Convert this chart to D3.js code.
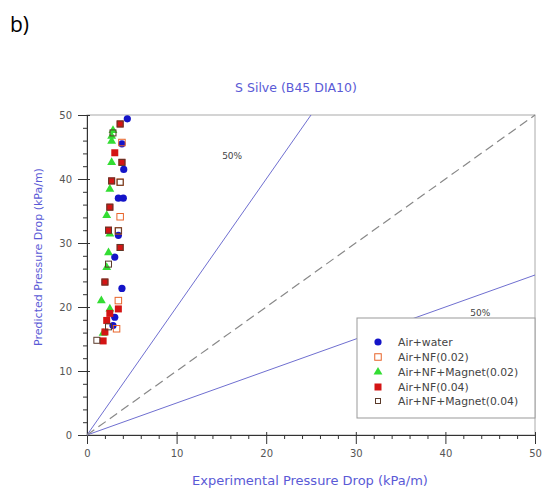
<!DOCTYPE html>
<html><head><meta charset="utf-8">
<script src="https://cdn.jsdelivr.net/npm/d3@7"></script>
<style>body{margin:0;background:#fff}svg{display:block}</style>
</head><body>
<script>
const chartTitle = "S Silve (B45 DIA10)";
const xTitle = "Experimental Pressure Drop (kPa/m)";
const yTitle = "Predicted Pressure Drop (kPa/m)";
const xTicks = [0,10,20,30,40,50];
const yTicks = [0,10,20,30,40,50];
const seriesNames = ["Air+water","Air+NF(0.02)","Air+NF+Magnet(0.02)","Air+NF(0.04)","Air+NF+Magnet(0.04)"];
const airWater = [[4.5,49.4],[4.1,41.5],[3.5,37.0],[4.05,37.0],[3.5,31.2],[3.1,27.8],[3.9,22.9],[3.1,18.4],[2.9,17.1],[3.9,45.5]];
const airNF002 = [[3.9,45.7],[3.7,34.1],[3.5,21.0],[3.7,39.5],[3.5,31.9],[3.3,16.6]];
const airNFMag002 = [[2.75,46.7],[2.75,45.9],[2.75,42.6],[2.55,38.4],[2.2,34.3],[2.55,31.4],[2.4,28.5],[2.2,26.2],[1.6,21.0],[2.55,19.7],[1.8,15.9],[2.9,47.6]];
const airNF004 = [[3.1,44.1],[2.75,39.7],[3.5,19.7],[2.55,19.0],[2.2,17.9],[2.0,16.1],[1.8,14.7],[3.7,29.3],[2.4,32.0],[3.7,48.6],[3.9,42.6],[2.55,35.6],[2.0,23.9]];
const airNFMag004 = [[3.7,48.6],[2.9,47.2],[3.9,42.6],[3.7,39.5],[2.55,35.6],[3.5,31.9],[3.7,29.3],[2.4,26.7],[2.0,23.9],[2.4,16.9],[1.1,14.8],[2.4,32.0],[2.75,39.7]];
const refLines = [[[0,0],[25,50]],[[0,0],[50,25]]];
const diagLine = [[0,0],[50,50]];
const pctLabels = [["50%",16.2,43.6],["50%",43.9,19.0]];

const W=543,H=490;
const svg=d3.select("body").append("svg").attr("width",W).attr("height",H);
const ml=87, mr=535, mt=115, mb=435;
const x=d3.scaleLinear().domain([0,50]).range([ml,mr]);
const y=d3.scaleLinear().domain([0,50]).range([mb,mt]);
const grey="#555", blueTxt="#5a5ad6";
const font="DejaVu Sans, Verdana, sans-serif";

svg.append("text").attr("x",10).attr("y",32).attr("font-family","Open Sans, sans-serif").attr("font-size",21).attr("fill","#000").text("b)");

svg.append("text").attr("x",296).attr("y",92).attr("text-anchor","middle").attr("font-family",font).attr("font-size",12.5).attr("fill",blueTxt).text(chartTitle);

// frame
svg.append("rect").attr("x",ml).attr("y",mt).attr("width",mr-ml).attr("height",mb-mt).attr("fill","none").attr("stroke","#aaa").attr("stroke-width",1);

// axes
const xAxis=d3.axisBottom(x).tickValues(xTicks).tickSize(9).tickPadding(6);
const gx=svg.append("g").attr("transform",`translate(0,${mb})`).call(xAxis);
gx.call(g=>g.select(".domain").attr("stroke","#333"));
gx.selectAll(".tick line").attr("stroke","#333").attr("y1",-3);
gx.selectAll("text").attr("font-family",font).attr("font-size",10).attr("fill",grey);
const gxm=svg.append("g").attr("transform",`translate(0,${mb})`).call(d3.axisBottom(x).tickValues(d3.range(0,51,2).filter(v=>v%10)).tickSize(4).tickFormat(""));
gxm.select(".domain").remove();gxm.selectAll("line").attr("stroke","#333");

const yAxis=d3.axisLeft(y).tickValues(yTicks).tickSize(9).tickPadding(6);
const gy=svg.append("g").attr("transform",`translate(${ml},0)`).call(yAxis);
gy.call(g=>g.select(".domain").attr("stroke","#333"));
gy.selectAll(".tick line").attr("stroke","#333").attr("x1",3);
gy.selectAll("text").attr("font-family",font).attr("font-size",10).attr("fill",grey);
const gym=svg.append("g").attr("transform",`translate(${ml},0)`).call(d3.axisLeft(y).tickValues(d3.range(0,51,2).filter(v=>v%10)).tickSize(4).tickFormat(""));
gym.select(".domain").remove();gym.selectAll("line").attr("stroke","#333");

svg.append("text").attr("x",310).attr("y",485).attr("text-anchor","middle").attr("font-family",font).attr("font-size",13).attr("fill",blueTxt).text(xTitle);
svg.append("text").attr("transform","translate(42,257) rotate(-90)").attr("text-anchor","middle").attr("font-family",font).attr("font-size",11).attr("fill",blueTxt).text(yTitle);

// lines
const line=d3.line().x(d=>x(d[0])).y(d=>y(d[1]));
refLines.forEach(l=>svg.append("path").attr("d",line(l)).attr("stroke","#6f6fd0").attr("stroke-width",1).attr("fill","none"));
svg.append("path").attr("d",line(diagLine)).attr("stroke","#888").attr("stroke-width",1.2).attr("stroke-dasharray","9,5").attr("fill","none");
pctLabels.forEach(p=>svg.append("text").attr("x",x(p[1])).attr("y",y(p[2])+3).attr("text-anchor","middle").attr("font-family",font).attr("font-size",9).attr("fill","#444").text(p[0]));

// markers
function sq(g,data,fill,stroke,size){g.selectAll(null).data(data).enter().append("rect").attr("x",d=>x(d[0])-size/2).attr("y",d=>y(d[1])-size/2).attr("width",size).attr("height",size).attr("fill",fill).attr("stroke",stroke).attr("stroke-width",1);}
function tri(g,data){g.selectAll(null).data(data).enter().append("path").attr("transform",d=>`translate(${x(d[0])},${y(d[1])})`).attr("d",d3.symbol(d3.symbolTriangle,34)).attr("fill","#33dd33");}
function circ(g,data){g.selectAll(null).data(data).enter().append("circle").attr("cx",d=>x(d[0])).attr("cy",d=>y(d[1])).attr("r",3.6).attr("fill","#1414c8");}
const pg=svg.append("g");
circ(pg,airWater);
sq(pg,airNF002,"none","#e8642a",6.5);
tri(pg,airNFMag002);
sq(pg,airNF004,"#d41414","none",7);
sq(pg,airNFMag004,"none","#5a3a2a",6);

// legend
const lg=svg.append("g");
lg.append("rect").attr("x",357).attr("y",318).attr("width",178).attr("height",100).attr("fill","#fff").attr("stroke","#999");
const ly=[342,357,372,387,401], lx=378;
circ(lg,[[x.invert(lx),y.invert(ly[0])]]);
sq(lg,[[x.invert(lx),y.invert(ly[1])]],"none","#e8642a",6.5);
tri(lg,[[x.invert(lx),y.invert(ly[2])]]);
sq(lg,[[x.invert(lx),y.invert(ly[3])]],"#d41414","none",7);
sq(lg,[[x.invert(lx),y.invert(ly[4])]],"none","#5a3a2a",5);
seriesNames.forEach((n,i)=>lg.append("text").attr("x",398).attr("y",ly[i]+3.5).attr("font-family",font).attr("font-size",10.8).attr("fill","#444").text(n));
</script>
</body></html>
